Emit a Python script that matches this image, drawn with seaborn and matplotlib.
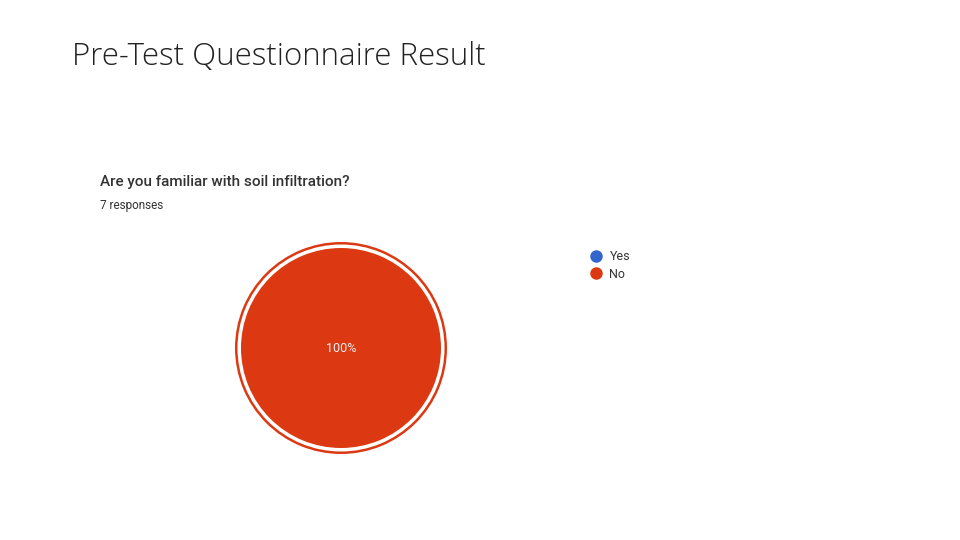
import matplotlib
matplotlib.use("Agg")
import matplotlib.pyplot as plt
from matplotlib.lines import Line2D
import seaborn as sns

categories = ["Yes", "No"]
counts = [0, 7]
colors = ["#3366CC", "#DC3912"]

sns.set_theme(style="white")
plt.rcParams['font.family'] = ['Open Sans', 'DejaVu Sans']

fig = plt.figure(figsize=(9.6, 5.4), dpi=100)
fig.text(72/960, 1-57/540, "Pre-Test Questionnaire Result", fontsize=22.5, fontweight='light',
         va='center', ha='left', color='#222222')
fig.text(100/960, 1-182/540, "Are you familiar with soil infiltration?", fontsize=11,
         fontweight='medium', va='center', ha='left', color='#333333',
         family=['Roboto', 'DejaVu Sans'])
fig.text(100/960, 1-206/540, "7 responses", fontsize=8.5,
         va='center', ha='left', color='#333333', family=['Roboto', 'DejaVu Sans'])

ax = fig.add_axes([(341-110)/960, (540-348-110)/540, 220/960, 220/540])
ax.pie(counts, colors=colors, radius=1.06, startangle=90, counterclock=False,
       wedgeprops=dict(width=0.025, edgecolor='none'))
ax.pie(counts, colors=colors, radius=1.0, startangle=90, counterclock=False,
       wedgeprops=dict(edgecolor='none'))
ax.text(0, 0, f"{100*counts[1]/sum(counts):.0f}%", ha='center', va='center',
        fontsize=9, color='#f2f2f2', family=['Roboto', 'DejaVu Sans'])
ax.set_xlim(-1.1, 1.1); ax.set_ylim(-1.1, 1.1); ax.set_aspect('equal')
ax.axis('off')

handles = [Line2D([], [], marker='o', linestyle='', markersize=9, markerfacecolor=c,
                  markeredgecolor='none') for c in colors]
fig.legend(handles, categories, loc='upper left', bbox_to_anchor=(572/960, 1-239/540),
           frameon=False, handletextpad=0.1, labelspacing=0.35,
           labelcolor='#333333', prop={'family': 'Roboto', 'size': 9})
fig.savefig("out.png", dpi=100)
